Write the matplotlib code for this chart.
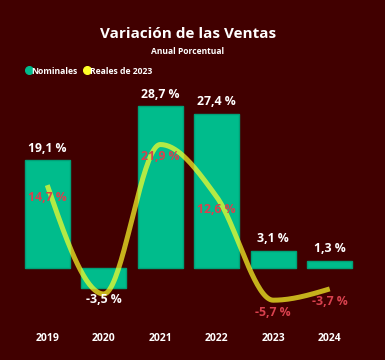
import numpy as np
import matplotlib
matplotlib.use("Agg")
import matplotlib.pyplot as plt
from matplotlib.lines import Line2D

years = ["2019", "2020", "2021", "2022", "2023", "2024"]
nominales = [19.1, -3.5, 28.7, 27.4, 3.1, 1.3]
reales = [14.7, -4.6, 21.9, 12.6, -5.7, -3.7]
show_real_label = [True, False, True, True, True, True]

bg = "#410000"
green = "#00BC8C"
yellow = "#FFFF28"
red_txt = "#D9414E"

plt.rcParams["font.family"] = ["Open Sans", "DejaVu Sans"]


def monotone_curve(xs, ys, n=40):
    """ Monotone cubic (d3 monotoneX style) through the points."""
    xs = np.asarray(xs, float)
    ys = np.asarray(ys, float)
    h = np.diff(xs)
    s = np.diff(ys) / h
    t = np.zeros(len(xs))
    for i in range(1, len(xs) - 1):
        p = (s[i - 1] * h[i] + s[i] * h[i - 1]) / (h[i - 1] + h[i])
        t[i] = (np.sign(s[i - 1]) + np.sign(s[i])) * min(abs(s[i - 1]), abs(s[i]), 0.5 * abs(p))
    t[0] = (3 * s[0] - t[1]) / 2
    t[-1] = (3 * s[-1] - t[-2]) / 2
    cx, cy = [], []
    for i in range(len(xs) - 1):
        u = np.linspace(0, 1, n)
        h00 = 2 * u**3 - 3 * u**2 + 1
        h10 = u**3 - 2 * u**2 + u
        h01 = -2 * u**3 + 3 * u**2
        h11 = u**3 - u**2
        cx.extend(xs[i] + u * h[i])
        cy.extend(h00 * ys[i] + h10 * h[i] * t[i] + h01 * ys[i + 1] + h11 * h[i] * t[i + 1])
    return np.array(cx), np.array(cy)


W, H = 385, 360
fig = plt.figure(figsize=(W / 100, H / 100), dpi=100, facecolor=bg)
ax = fig.add_axes([19 / W, 1 - 318.8 / H, 339 / W, 225.6 / H])
ax.set_facecolor(bg)

x = np.arange(len(years))
ax.bar(x, nominales, width=0.8, color=green, edgecolor="#00A077", linewidth=1, zorder=2)

cx, cy = monotone_curve(x, reales)
ax.plot(cx, cy, color=yellow, alpha=0.7, lw=3.6, solid_capstyle="butt", zorder=4)

for xi, v in zip(x, nominales):
    if v >= 0:
        ax.text(xi, v + 1.0, f"{v:.1f} %".replace(".", ","), ha="center", va="bottom",
                color="white", fontsize=8.8, fontweight="bold", zorder=5)
    else:
        ax.text(xi, v - 1.0, f"{v:.1f} %".replace(".", ","), ha="center", va="top",
                color="white", fontsize=8.8, fontweight="bold", zorder=5)

for xi, v, show in zip(x, reales, show_real_label):
    if show:
        ax.text(xi, v - 2.2, f"{v:.1f} %".replace(".", ","), ha="center", va="center",
                color=red_txt, fontsize=8.8, fontweight="bold", zorder=5)

ax.set_xlim(-0.5, 5.5)
ax.set_ylim(-9, 31)
ax.set_xticks(x)
ax.set_xticklabels(years, color="white", fontsize=7.5, fontweight="bold")
ax.tick_params(axis="x", length=0, pad=10)
ax.set_yticks([])
for sp in ax.spines.values():
    sp.set_visible(False)

fig.text(188 / W, 1 - 34 / H, "Variación de las Ventas", ha="center", va="center",
         color="white", fontsize=11, fontweight="bold")
fig.text(188 / W, 1 - 51 / H, "Anual Porcentual", ha="center", va="center",
         color="white", fontsize=6.1, fontweight="bold")

handles = [Line2D([], [], marker="o", ls="", color=green, markersize=5.5),
           Line2D([], [], marker="o", ls="", color=yellow, markersize=5.5)]
fig.legend(handles, ["Nominales", "Reales de 2023"], loc="center left",
           bbox_to_anchor=(16 / W, 1 - 71 / H), ncol=2, frameon=False,
           handletextpad=-0.3, columnspacing=0.5, handlelength=1.2,
           prop={"size": 6.2, "weight": "bold"}, labelcolor="white")

fig.savefig("out.png", dpi=100, facecolor=bg)
